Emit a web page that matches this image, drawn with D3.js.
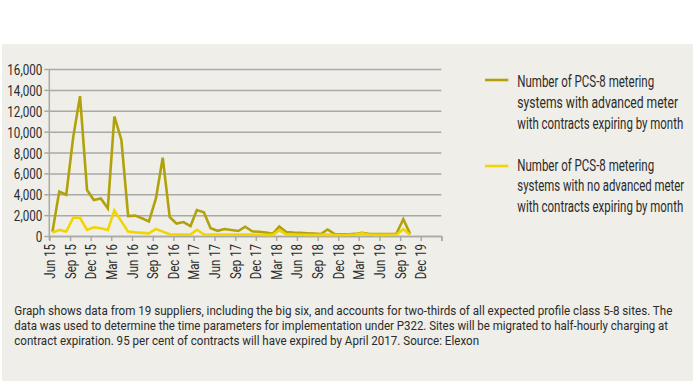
<!DOCTYPE html>
<html>
<head>
<meta charset="utf-8">
<script src="https://cdn.jsdelivr.net/npm/d3@7"></script>
<style>
  body { margin: 0; background: #fff; }
  svg text { font-family: Roboto, "Liberation Sans", sans-serif; fill: #2b2b2b; }
</style>
</head>
<body>
<svg id="chart" width="700" height="389"></svg>
<script>
// months run Jun 2015 .. Oct 2019, one value per month
const startMonth = new Date(2015, 5, 1);
const withAdvanced = [400, 4250, 3950, 9500, 13400, 4400, 3450, 3600, 2650, 11450, 9200, 1900,
  1950, 1700, 1400, 3600, 7500, 1800, 1200, 1340, 950, 2490, 2270, 740,
  500, 670, 580, 480, 890, 450, 400, 320, 220, 900, 380, 330,
  300, 270, 230, 190, 620, 180, 160, 170, 200, 300, 220, 180,
  180, 190, 220, 1600, 200];
const noAdvanced = [320, 580, 420, 1750, 1750, 580, 830, 740, 580, 2450, 1400, 420,
  350, 300, 250, 670, 420, 160, 130, 130, 130, 600, 170, 140,
  140, 140, 140, 130, 150, 130, 120, 110, 110, 560, 140, 130,
  120, 110, 100, 110, 130, 100, 100, 110, 150, 260, 140, 110,
  110, 110, 120, 650, 120];
const yTicks = [0, 2000, 4000, 6000, 8000, 10000, 12000, 14000, 16000];
const legendLabels = [
  ['Number of PCS-8 metering', 'systems with advanced meter', 'with contracts expiring by month'],
  ['Number of PCS-8 metering', 'systems with no advanced meter', 'with contracts expiring by month']
];
const legendWidths = [[137, 161, 166], [137, 167, 166]];
const seriesColors = ['#b1a20c', '#f2d500'];
const caption = [
  'Graph shows data from 19 suppliers, including the big six, and accounts for two-thirds of all expected profile class 5-8 sites. The',
  'data was used to determine the time parameters for implementation under P322. Sites will be migrated to half-hourly charging at',
  'contract expiration. 95 per cent of contracts will have expired by April 2017. Source: Elexon'
];
const captionWidths = [659, 654, 465];

// the original uses a condensed face: compress text horizontally
function squeezeBy(sel, factor) {
  sel.each(function () {
    const w = this.getComputedTextLength();
    if (w > 0) d3.select(this).attr('textLength', w * factor).attr('lengthAdjust', 'spacingAndGlyphs');
  });
}
function narrowText(parent, tx, ty, size, str, width) {
  const g = parent.append('g');
  const t = g.append('text').style('font-size', size + 'px').text(str);
  const w = t.node().getComputedTextLength();
  g.attr('transform', `translate(${tx},${ty}) scale(${width / w},1)`);
  return t;
}

const svg = d3.select('#chart');

// background panel
svg.append('rect')
  .attr('x', 2).attr('y', 44).attr('width', 691).attr('height', 337)
  .attr('fill', '#efeee8');

const monthDate = i => new Date(2015, 5 + i, 15);
const endMonth = new Date(2020, 2, 1);
const x = d3.scaleTime()
  .domain([startMonth, endMonth])
  .range([49.3, 441.3]);
const y = d3.scaleLinear()
  .domain([0, 16000])
  .range([236, 69]);

// gridlines + y axis
const yAxis = d3.axisLeft(y)
  .tickValues(yTicks)
  .tickSize(-392)
  .tickPadding(7)
  .tickFormat(d3.format(','));
const gy = svg.append('g')
  .attr('transform', 'translate(49.3,0)')
  .call(yAxis);
gy.select('.domain').remove();
gy.selectAll('.tick line').attr('stroke', '#a9a9a6').attr('stroke-width', 1.5);
gy.selectAll('.tick').append('line')
  .attr('x1', -5).attr('x2', 0)
  .attr('stroke', '#a9a9a6').attr('stroke-width', 1.5);
const yLabels = gy.selectAll('.tick text')
  .style('font-size', '15.5px')
  .attr('dy', '0.36em');
const yRef = yLabels.filter(d => d === 16000).node().getComputedTextLength();
squeezeBy(yLabels, 35 / yRef);

svg.append('line')
  .attr('x1', 49.3).attr('x2', 49.3)
  .attr('y1', 69).attr('y2', 240)
  .attr('stroke', '#a9a9a6').attr('stroke-width', 1.5);

// x axis, quarterly ticks from Jun 15; the last tick has no label
const xTicks = d3.timeMonth.range(startMonth, new Date(2020, 2, 2), 3);
const xAxis = d3.axisBottom(x)
  .tickValues(xTicks)
  .tickSize(5)
  .tickFormat(d => d >= endMonth ? '' : d3.timeFormat('%b %y')(d));
const gx = svg.append('g')
  .attr('transform', 'translate(0,236)')
  .call(xAxis);
gx.select('.domain').attr('stroke', '#a9a9a6').attr('stroke-width', 1.5);
gx.selectAll('.tick line').attr('stroke', '#a9a9a6').attr('stroke-width', 1.5);
const xLabels = gx.selectAll('.tick text')
  .style('font-size', '14px')
  .attr('text-anchor', 'end')
  .attr('transform', 'rotate(-90)')
  .attr('x', -8)
  .attr('y', 0)
  .attr('dy', '0.36em');
const xRef = xLabels.filter((d, i) => i === 1).node().getComputedTextLength();
squeezeBy(xLabels, 35 / xRef);

// lines
const line = d3.line()
  .x((d, i) => x(monthDate(i)))
  .y(d => y(d));

[withAdvanced, noAdvanced].forEach((series, si) => {
  svg.append('path')
    .datum(series)
    .attr('fill', 'none')
    .attr('stroke', seriesColors[si])
    .attr('stroke-width', 2.6)
    .attr('stroke-linejoin', 'miter')
    .attr('d', line);
});

// legend
const legend = svg.append('g');
legendLabels.forEach((lines, i) => {
  const ly = 80 + i * 86;
  const by = 87.3 + i * 83.4;
  legend.append('line')
    .attr('x1', 485).attr('x2', 508.3)
    .attr('y1', ly).attr('y2', ly)
    .attr('stroke', seriesColors[i]).attr('stroke-width', 2.6);
  lines.forEach((t, j) => {
    narrowText(legend, 517.3, by + j * 20.7, 17, t, legendWidths[i][j]);
  });
});

// caption
caption.forEach((t, j) => {
  narrowText(svg, 14.3, 315.3 + j * 14.7, 12.5, t, captionWidths[j]);
});
</script>
</body>
</html>
